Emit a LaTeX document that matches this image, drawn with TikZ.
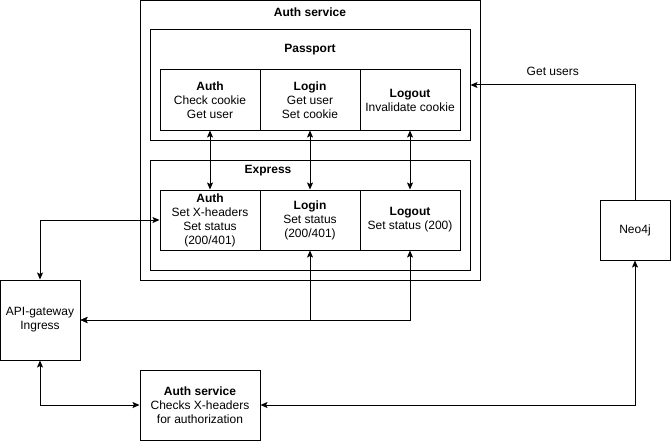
\documentclass[tikz,border=0pt]{standalone}
\usepackage{fontspec}
\setmainfont{Liberation Sans}
\usetikzlibrary{arrows.meta}
\begin{document}
\begin{tikzpicture}[x=1pt,y=-1pt,
  box/.style={draw=black,line width=1pt,minimum width=#1,inner sep=0pt,align=center,font=\fontsize{12}{14}\selectfont},
  conn/.style={line width=1pt,{Stealth[length=7pt,width=6pt,inset=1.5pt]}-{Stealth[length=7pt,width=6pt,inset=1.5pt]}},
  oneway/.style={line width=1pt,-{Stealth[length=7pt,width=6pt,inset=1.5pt]}},
  ttl/.style={font=\fontsize{12}{14}\selectfont\bfseries,inner sep=0pt}]
\useasboundingbox (0,0) rectangle (671,441);
\fill[white] (0,0) rectangle (671,441);
\node[box=340pt,minimum height=279pt] (outer) at (310,140.5) {};
\node[ttl] (outert) at (310,12) {Auth service};
\node[box=320pt,minimum height=110pt] (passport) at (310,85) {};
\node[ttl] (passt) at (310,50) {Passport};
\node[box=320pt,minimum height=110pt] (express) at (310,215) {};
\node[ttl] (expt) at (268,171) {Express};
\node[box=100pt,minimum height=60pt] (pa) at (210,100) {\textbf{Auth}\\Check cookie\\Get user};
\node[box=100pt,minimum height=60pt] (pl) at (310,100) {\textbf{Login}\\Get user\\Set cookie};
\node[box=100pt,minimum height=60pt] (po) at (410,100) {\textbf{Logout}\\Invalidate cookie};
\node[box=100pt,minimum height=60pt] (ea) at (210,220) {\textbf{Auth}\\Set X-headers\\Set status\\(200/401)};
\node[box=100pt,minimum height=60pt] (el) at (310,220) {\textbf{Login}\\Set status\\(200/401)};
\node[box=100pt,minimum height=60pt] (eo) at (410,220) {\textbf{Logout}\\Set status (200)};
\node[box=80pt,minimum height=80pt] (api) at (40,320) {API-gateway\\Ingress};
\node[box=120pt,minimum height=70pt] (bauth) at (200,405) {\textbf{Auth service}\\Checks X-headers\\for authorization};
\node[box=70pt,minimum height=60pt] (neo) at (635,230) {Neo4j};
\draw[conn] (pa.south) -- (ea.north);
\draw[conn] (pl.south) -- (el.north);
\draw[conn] (po.south) -- (eo.north);
\draw[conn] (ea.west) -| (api.north);
\draw[conn] (el.south) |- (api.east);
\draw[conn] (eo.south) |- (api.east);
\draw[conn] (api.south) |- (bauth.west);
\draw[conn] (neo.south) |- (bauth.east);
\draw[oneway] (neo.north) |- (passport.east) node[pos=0.75,above=6pt,font=\fontsize{12}{14}\selectfont] (gu) {Get users};
\end{tikzpicture}
\end{document}
